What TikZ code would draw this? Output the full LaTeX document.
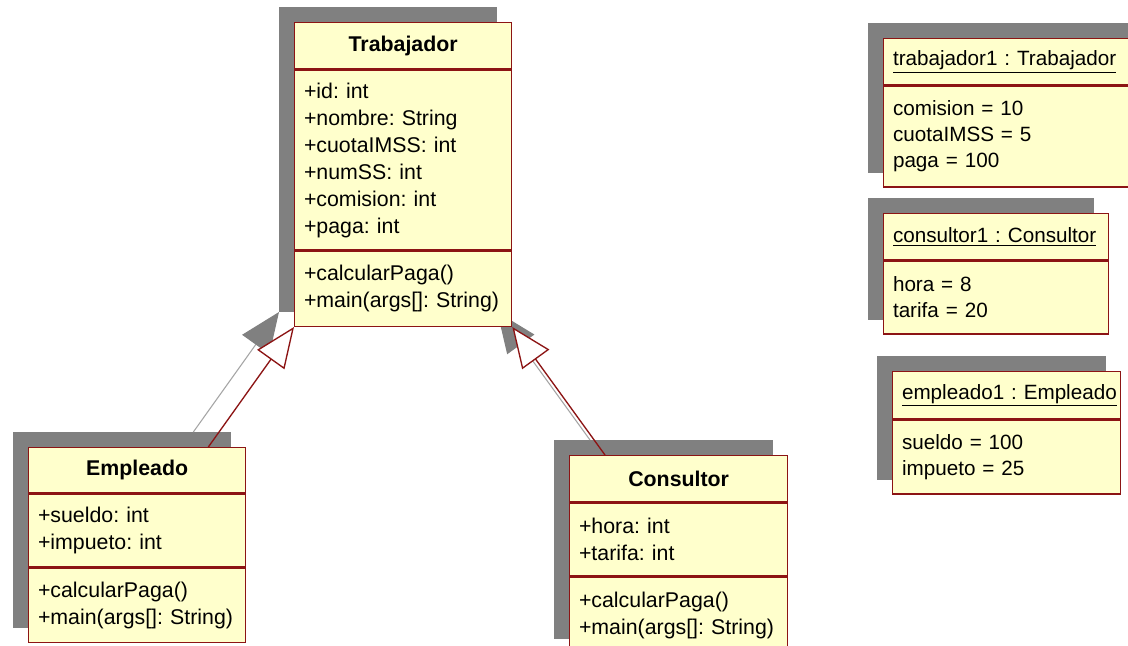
\documentclass[tikz,border=0pt]{standalone}
\usepackage{fontspec}
\setmainfont{Liberation Sans}
\usetikzlibrary{positioning,arrows.meta,backgrounds}
\definecolor{umlyellow}{RGB}{255,255,204}
\definecolor{umlred}{RGB}{140,20,20}
\definecolor{umlgray}{RGB}{128,128,128}
\definecolor{umlline}{RGB}{165,165,165}
\newcommand{\classfont}{\frenchspacing\fontsize{16pt}{20.25pt}\selectfont}
\newcommand{\objfont}{\frenchspacing\fontsize{15.5pt}{19.5pt}\selectfont}

\begin{document}
\begin{tikzpicture}[
        x=0.75pt, y=-0.75pt,
        node distance=0pt,
        umlbox/.style={draw=umlred, fill=umlyellow, line width=1pt,
            inner xsep=7pt, inner ysep=0pt, text width=#1, align=left,
            anchor=north west, font=\classfont},
        classhead/.style={umlbox=#1, align=center, font=\classfont\bfseries},
        objbox/.style={umlbox=#1, font=\objfont},
        umlshadow/.style={fill=umlgray},
        inherit/.style={draw=umlred, line width=1pt,
            -{Triangle[length=30pt, width=25pt, fill=white]}},
        inheritshadow/.style={draw=umlline, line width=0.8pt,
            -{Triangle[length=30pt, width=25pt, color=umlgray, fill=umlgray]}}
    ]
    \useasboundingbox (0,0) rectangle (1128,646);

    % classes
    \node[classhead=148.75pt, minimum height=34.5pt] (trabh) at (294,22) {Trabajador};
    \node[umlbox=148.75pt, minimum height=135pt, below=of trabh] (traba)
        {+id: int\\+nombre: String\\+cuotaIMSS: int\\+numSS: int\\+comision: int\\+paga: int};
    \node[umlbox=148.75pt, minimum height=56.25pt, below=of traba] (trabm)
        {+calcularPaga()\\+main(args[]: String)};

    \node[classhead=148.75pt, minimum height=33.75pt] (emph) at (28,447) {Empleado};
    \node[umlbox=148.75pt, minimum height=54.75pt, below=of emph] (empa)
        {+sueldo: int\\+impueto: int};
    \node[umlbox=148.75pt, minimum height=55.5pt, below=of empa] (empm)
        {+calcularPaga()\\+main(args[]: String)};

    \node[classhead=149.5pt, minimum height=34.5pt] (consh) at (569,455) {Consultor};
    \node[umlbox=149.5pt, minimum height=54.75pt, below=of consh] (consa)
        {+hora: int\\+tarifa: int};
    \node[umlbox=149.5pt, minimum height=57pt, below=of consa] (consm)
        {+calcularPaga()\\+main(args[]: String)};

    % objects
    \node[objbox=181pt, minimum height=34.5pt] (t1h) at (883,38)
        {\underline{trabajador1 : Trabajador}};
    \node[objbox=181pt, minimum height=75.75pt, below=of t1h] (t1a)
        {comision = 10\\cuotaIMSS = 5\\paga = 100};

    \node[objbox=154.75pt, minimum height=34.5pt] (c1h) at (883,213)
        {\underline{consultor1 : Consultor}};
    \node[objbox=154.75pt, minimum height=54.75pt, below=of c1h] (c1a)
        {hora = 8\\tarifa = 20};

    \node[objbox=157pt, minimum height=35.25pt] (e1h) at (892,371)
        {\underline{empleado1 : Empleado}};
    \node[objbox=157pt, minimum height=55.5pt, below=of e1h] (e1a)
        {sueldo = 100\\impueto = 25};

    % generalizations
    \draw[inherit] ([shift={(-38,0)}]emph.north east) -- (trabm.south west);
    \draw[inherit] ([shift={(36,0)}]consh.north west) -- (trabm.south east);

    % shadows
    \begin{scope}[on background layer]
        \fill[white] (0,0) rectangle (1128,646);
        \foreach \boxtop/\boxbot in {trabh/trabm, emph/empm, consh/consm, t1h/t1a, c1h/c1a, e1h/e1a}
            \fill[umlshadow] ([shift={(-15,-15)}]\boxtop.north west) rectangle ([shift={(-15,-15)}]\boxbot.south east);
        \draw[inheritshadow] ([shift={(-53,-15)}]emph.north east) -- ([shift={(-15,-15)}]trabm.south west);
        \draw[inheritshadow] ([shift={(21,-15)}]consh.north west) -- ([shift={(-15,-15)}]trabm.south east);
    \end{scope}
\end{tikzpicture}
\end{document}
